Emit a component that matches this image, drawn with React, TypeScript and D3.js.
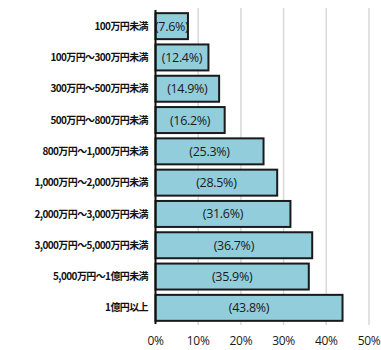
import React from "react";
import * as d3 from "d3";

const categories = [
  "100万円未満",
  "100万円～300万円未満",
  "300万円～500万円未満",
  "500万円～800万円未満",
  "800万円～1,000万円未満",
  "1,000万円～2,000万円未満",
  "2,000万円～3,000万円未満",
  "3,000万円～5,000万円未満",
  "5,000万円～1億円未満",
  "1億円以上",
];
const values = [7.6, 12.4, 14.9, 16.2, 25.3, 28.5, 31.6, 36.7, 35.9, 43.8];
const ticks = [0, 10, 20, 30, 40, 50];

export default function App() {
  const W = 381, H = 350;
  const x = d3.scaleLinear().domain([0, 50]).range([155.5, 369]);
  const y = d3.scaleBand<string>().domain(categories).range([10.5, 323.5]).paddingInner(0.17).paddingOuter(0.085);
  return (
    <svg width={W} height={H} style={{ position: "absolute", left: 0, top: 0, background: "#fff" }}>
      {ticks.slice(1).map((t) => (
        <line key={t} x1={x(t)} x2={x(t)} y1={8} y2={325} stroke="#d9d9d9" strokeWidth={1.5} />
      ))}
      {categories.map((c, i) => (
        <g key={c}>
          <rect x={x(0)} y={y(c)!} width={x(values[i]) - x(0)} height={y.bandwidth()}
            fill="#92cddc" stroke="#1a1a1a" strokeWidth={2} />
          <text x={(x(0) + x(values[i])) / 2} y={y(c)! + y.bandwidth() / 2} dy="0.36em" textAnchor="middle"
            fontFamily="'Open Sans', sans-serif" fontSize={12.5} letterSpacing={-0.3} fill="#1a1a1a">({values[i].toFixed(1)}%)</text>
          <text x={148} y={y(c)! + y.bandwidth() / 2} dy="0.36em" textAnchor="end"
            fontFamily="'Noto Sans CJK JP', sans-serif" fontWeight="bold" fontSize={10} letterSpacing={-0.6} fill="#111">{c}</text>
        </g>
      ))}
      <line x1={x(0)} x2={x(0)} y1={10} y2={324} stroke="#111" strokeWidth={2} />
      {ticks.map((t) => (
        <text key={t} x={x(t)} y={345} textAnchor="middle" fontFamily="'Open Sans', sans-serif" fontSize={12} letterSpacing={-0.3} fill="#1a1a1a">{t}%</text>
      ))}
    </svg>
  );
}
